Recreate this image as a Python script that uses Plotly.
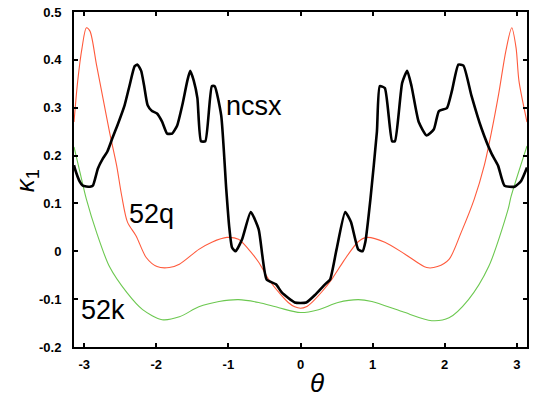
import plotly.graph_objects as go

# 52q (red)
q_theta = [-3.1416, -3.09, -3.03, -2.97, -2.92, -2.83, -2.74, -2.65, -2.55, -2.48, -2.40, -2.28,
           -2.14, -1.99, -1.82, -1.68, -1.41, -1.23, -1.02, -0.86, -0.72, -0.58, -0.44, -0.30,
           -0.17, -0.08, 0.0, 0.08, 0.17, 0.30, 0.44, 0.60, 0.80, 0.92, 1.17, 1.45, 1.75, 1.90,
           2.06, 2.23, 2.41, 2.55, 2.65, 2.75, 2.85, 2.93, 2.99, 3.03, 3.1416]
q_val = [0.27, 0.356, 0.425, 0.467, 0.46, 0.39, 0.32, 0.25, 0.179, 0.116, 0.061, 0.032,
         -0.013, -0.032, -0.034, -0.027, 0.004, 0.019, 0.029, 0.025, 0.004, -0.023, -0.059, -0.086,
         -0.107, -0.116, -0.119, -0.116, -0.105, -0.084, -0.057, -0.02, 0.02, 0.029, 0.019, -0.006, -0.034, -0.032,
         -0.017, 0.04, 0.109, 0.18, 0.25, 0.33, 0.42, 0.467, 0.425, 0.356, 0.27]

# 52k (green)
k_theta = [-3.1416, -3.06, -2.97, -2.83, -2.65, -2.41, -2.19, -1.92, -1.68, -1.41, -1.13, -0.86,
           -0.58, -0.30, 0.0, 0.25, 0.52, 0.80, 0.99, 1.41, 1.82, 2.06, 2.33, 2.61, 2.88, 2.92, 3.1416]
k_val = [0.218, 0.166, 0.109, 0.04, -0.032, -0.086, -0.122, -0.143, -0.137, -0.116, -0.105, -0.101,
         -0.107, -0.118, -0.128, -0.122, -0.107, -0.101, -0.105, -0.126, -0.145, -0.139, -0.101, -0.032, 0.088, 0.114, 0.22]

# ncsx (black)
n_theta = [-3.1416, -3.13, -3.06, -3.02, -2.92, -2.88, -2.81, -2.74, -2.68, -2.61, -2.54, -2.44,
           -2.37, -2.30, -2.26, -2.21, -2.17, -2.12, -2.06, -1.99, -1.92, -1.85, -1.78, -1.71,
           -1.64, -1.57, -1.53, -1.48, -1.43, -1.38, -1.32, -1.23, -1.19, -1.10, -1.03, -0.99,
           -0.95, -0.90, -0.81, -0.69, -0.58, -0.47, -0.34, -0.26, -0.08, 0.08, 0.21, 0.34,
           0.41, 0.50, 0.62, 0.70, 0.80, 0.86, 0.90, 0.97, 1.06, 1.10, 1.17, 1.27, 1.31, 1.41,
           1.48, 1.54, 1.64, 1.75, 1.85, 1.92, 2.03, 2.10, 2.19, 2.26, 2.37, 2.51, 2.65, 2.74,
           2.83, 2.97, 3.06, 3.1416]
n_val = [0.18, 0.173, 0.145, 0.137, 0.135, 0.137, 0.173, 0.194, 0.208, 0.236, 0.263, 0.305,
         0.347, 0.387, 0.39, 0.377, 0.347, 0.305, 0.293, 0.288, 0.271, 0.246, 0.246, 0.263,
         0.305, 0.356, 0.377, 0.356, 0.32, 0.23, 0.23, 0.345, 0.345, 0.284, 0.13, 0.053,
         0.008, 0.0, 0.025, 0.082, 0.046, -0.059, -0.069, -0.086, -0.107, -0.107, -0.09, -0.069,
         -0.059, 0.004, 0.082, 0.061, 0.004, 0.0, 0.02, 0.109, 0.25, 0.345, 0.341, 0.23, 0.23, 0.352,
         0.377, 0.345, 0.27, 0.242, 0.255, 0.293, 0.299, 0.335, 0.39, 0.388, 0.326, 0.257, 0.204, 0.179,
         0.137, 0.135, 0.147, 0.175]

x_ticks = [-3, -2, -1, 0, 1, 2, 3]
y_ticks = [-0.2, -0.1, 0, 0.1, 0.2, 0.3, 0.4, 0.5]
y_tick_text = ["-0.2", "-0.1", "0", "0.1", "0.2", "0.3", "0.4", "0.5"]

labels = ["ncsx", "52q", "52k"]
label_theta = [-0.65, -2.07, -2.74]
label_val = [0.303, 0.078, -0.122]

fig = go.Figure()
fig.add_trace(go.Scatter(x=q_theta, y=q_val, mode="lines",
                         line=dict(color="#ff5a3c", width=1.1, shape="spline", smoothing=0.8), name="52q"))
fig.add_trace(go.Scatter(x=k_theta, y=k_val, mode="lines",
                         line=dict(color="#6cc850", width=1.1, shape="spline", smoothing=0.8), name="52k"))
fig.add_trace(go.Scatter(x=n_theta, y=n_val, mode="lines",
                         line=dict(color="black", width=2.6, shape="spline", smoothing=0.5), name="ncsx"))

for t, xv, yv in zip(labels, label_theta, label_val):
    fig.add_annotation(x=xv, y=yv, text=t, showarrow=False, xanchor="center", yanchor="middle",
                       font=dict(family="Liberation Sans, Arial", size=27, color="black"))

fig.add_annotation(xref="paper", yref="paper", x=0.536, y=-0.107, text="<i>θ</i>", showarrow=False,
                   xanchor="center", yanchor="middle",
                   font=dict(family="Liberation Sans, Arial", size=26, color="black"))
fig.add_annotation(xref="paper", yref="paper", x=-0.105, y=0.496, text="<i>κ</i><sub>1</sub>", showarrow=False,
                   xanchor="center", yanchor="middle", textangle=-90,
                   font=dict(family="Liberation Sans, Arial", size=26, color="black"))

axis_common = dict(showgrid=False, zeroline=False, showline=True, linecolor="black", linewidth=2,
                   mirror="allticks", ticks="inside", ticklen=4, tickwidth=1.5, tickcolor="black",
                   tickfont=dict(family="Liberation Sans, Arial", size=13, color="black", weight="bold"))

fig.update_xaxes(range=[-3.1416, 3.1416], tickvals=x_ticks, ticktext=[str(v) for v in x_ticks],
                 ticklabelstandoff=4, **axis_common)
fig.update_yaxes(range=[-0.2, 0.5], tickvals=y_ticks, ticktext=y_tick_text, ticklabelstandoff=8, **axis_common)

fig.update_layout(width=534, height=399, margin=dict(l=74, r=5, t=12, b=52),
                  plot_bgcolor="white", paper_bgcolor="white", showlegend=False)

fig.write_html("out.html")
